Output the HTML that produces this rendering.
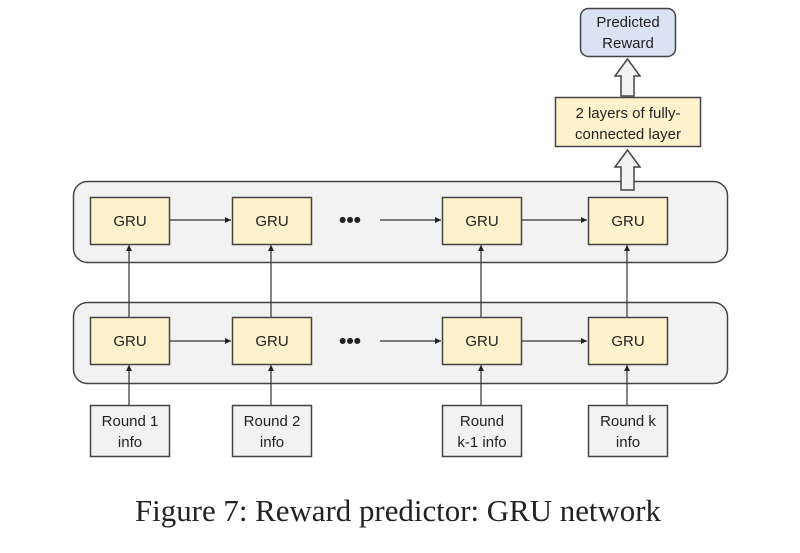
<!DOCTYPE html>
<html><head><style>
body{margin:0;background:#fff;width:800px;height:548px;overflow:hidden}
</style></head><body>
<svg width="800" height="548" xmlns="http://www.w3.org/2000/svg" font-family="Liberation Sans, sans-serif">
<defs><marker id="a" markerWidth="6" markerHeight="6" refX="5" refY="3" orient="auto"><path d="M0,0.5 L5,3 L0,5.5z" fill="#222"/></marker></defs>
<rect x="73.5" y="181.5" width="654" height="81" rx="14" fill="#f2f2f2" stroke="#444" stroke-width="1.5"/>
<rect x="73.5" y="302.5" width="654" height="81" rx="14" fill="#f2f2f2" stroke="#444" stroke-width="1.5"/>
<g stroke="#333" stroke-width="1.2" fill="none" marker-end="url(#a)">
<line x1="129" y1="405" x2="129" y2="365"/><line x1="271" y1="405" x2="271" y2="365"/>
<line x1="481" y1="405" x2="481" y2="365"/><line x1="627" y1="405" x2="627" y2="365"/>
<line x1="129" y1="317" x2="129" y2="245"/><line x1="271" y1="317" x2="271" y2="245"/>
<line x1="481" y1="317" x2="481" y2="245"/><line x1="627" y1="317" x2="627" y2="245"/>
<line x1="169" y1="220" x2="231" y2="220"/><line x1="169" y1="341" x2="231" y2="341"/>
<line x1="380" y1="220" x2="441" y2="220"/><line x1="380" y1="341" x2="441" y2="341"/>
<line x1="521" y1="220" x2="587" y2="220"/><line x1="521" y1="341" x2="587" y2="341"/>
</g>
<g fill="#fff2cc" stroke="#444" stroke-width="1.5">
<rect x="90.5" y="197.5" width="79" height="47"/><rect x="232.5" y="197.5" width="79" height="47"/>
<rect x="442.5" y="197.5" width="79" height="47"/><rect x="588.5" y="197.5" width="79" height="47"/>
<rect x="90.5" y="317.5" width="79" height="47"/><rect x="232.5" y="317.5" width="79" height="47"/>
<rect x="442.5" y="317.5" width="79" height="47"/><rect x="588.5" y="317.5" width="79" height="47"/>
<rect x="555.5" y="97.5" width="145" height="49"/>
</g>
<g fill="#f2f2f2" stroke="#444" stroke-width="1.5">
<rect x="90.5" y="405.5" width="79" height="51"/><rect x="232.5" y="405.5" width="79" height="51"/>
<rect x="442.5" y="405.5" width="79" height="51"/><rect x="588.5" y="405.5" width="79" height="51"/>
<path d="M621,190 V167 H615 L627.5,150 L640,167 H634 V190z"/>
<path d="M621,96 V76 H615 L627.5,59 L640,76 H634 V96z"/>
</g>
<rect x="580.5" y="8.5" width="95" height="48" rx="8" fill="#dae3f3" stroke="#444" stroke-width="1.5"/>
<g font-size="15" fill="#222" text-anchor="middle">
<text x="130" y="226">GRU</text><text x="272" y="226">GRU</text><text x="482" y="226">GRU</text><text x="628" y="226">GRU</text>
<text x="130" y="346">GRU</text><text x="272" y="346">GRU</text><text x="482" y="346">GRU</text><text x="628" y="346">GRU</text>
<text x="130" y="426">Round 1</text><text x="130" y="447">info</text>
<text x="272" y="426">Round 2</text><text x="272" y="447">info</text>
<text x="482" y="426">Round</text><text x="482" y="447">k-1 info</text>
<text x="628" y="426">Round k</text><text x="628" y="447">info</text>
<text x="628" y="118">2 layers of fully-</text><text x="628" y="139">connected layer</text>
<text x="628" y="27">Predicted</text><text x="628" y="48">Reward</text>
<text x="350" y="227" font-weight="bold" font-size="21">•••</text>
<text x="350" y="348" font-weight="bold" font-size="21">•••</text>
</g>
<text x="398" y="521" font-family="Liberation Serif, serif" font-size="31" text-anchor="middle" fill="#222" textLength="526" lengthAdjust="spacingAndGlyphs">Figure 7: Reward predictor: GRU network</text>
</svg>
</body></html>
